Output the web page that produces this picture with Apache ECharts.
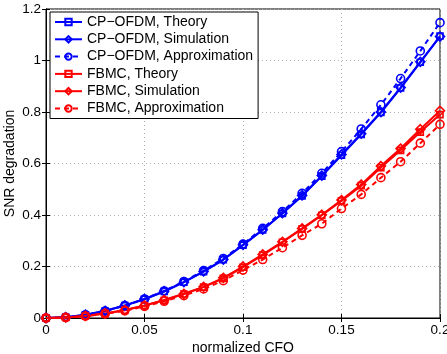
<!DOCTYPE html>
<html>
<head>
<meta charset="utf-8">
<script src="https://cdn.jsdelivr.net/npm/echarts@6/dist/echarts.min.js"></script>
<style>
    html, body {margin: 0; padding: 0; background: #fff;}
    #chart {width: 447px; height: 354px;}
</style>
</head>
<body>
<div id="chart"></div>
<script>
const cfo = [0, 0.01, 0.02, 0.03, 0.04, 0.05, 0.06, 0.07, 0.08, 0.09, 0.1,
    0.11, 0.12, 0.13, 0.14, 0.15, 0.16, 0.17, 0.18, 0.19, 0.2];

const ofdm_theory = [0, 0.003, 0.012, 0.027, 0.048, 0.073, 0.103, 0.139, 0.180, 0.226, 0.283,
    0.342, 0.406, 0.474, 0.551, 0.632, 0.713, 0.798, 0.893, 0.993, 1.095];
const ofdm_sim = [0, 0.003, 0.013, 0.028, 0.049, 0.074, 0.104, 0.139, 0.181, 0.227, 0.284,
    0.343, 0.407, 0.476, 0.553, 0.635, 0.716, 0.800, 0.895, 0.995, 1.093];
const ofdm_approx = [0, 0.003, 0.012, 0.027, 0.048, 0.074, 0.105, 0.142, 0.184, 0.231, 0.287,
    0.348, 0.413, 0.484, 0.562, 0.646, 0.734, 0.828, 0.930, 1.037, 1.147];

const fbmc_theory = [0, 0.002, 0.008, 0.017, 0.030, 0.048, 0.069, 0.093, 0.120, 0.154, 0.197,
    0.244, 0.294, 0.346, 0.399, 0.455, 0.514, 0.584, 0.651, 0.722, 0.790];
const fbmc_sim = [0, 0.002, 0.008, 0.018, 0.031, 0.049, 0.070, 0.094, 0.121, 0.156, 0.200,
    0.247, 0.296, 0.348, 0.401, 0.458, 0.518, 0.590, 0.658, 0.733, 0.805];
const fbmc_approx = [0, 0.002, 0.007, 0.016, 0.028, 0.045, 0.065, 0.087, 0.113, 0.145, 0.186,
    0.227, 0.273, 0.321, 0.366, 0.425, 0.480, 0.545, 0.607, 0.679, 0.752];

const font = 'Liberation Sans, Arial, sans-serif';

function make_series(name, values, color, symbol, size, dashed) {
    return {
        name: name, type: 'line', data: cfo.map((x, i) => [x, values[i]]),
        symbol: symbol, symbolSize: size, showSymbol: true,
        lineStyle: {color: color, width: 2, type: dashed ? [5, 4] : 'solid'},
        itemStyle: {color: 'rgba(0,0,0,0)', borderColor: color, borderWidth: 1.6},
        emphasis: {disabled: true}, animation: false
    };
}

let series = [
    make_series('CP\u2212OFDM, Theory', ofdm_theory, '#0000ff', 'rect', 6, false),
    make_series('CP\u2212OFDM, Simulation', ofdm_sim, '#0000ff', 'diamond', 9, false),
    make_series('CP\u2212OFDM, Approximation', ofdm_approx, '#0000ff', 'circle', 8, true),
    make_series('FBMC, Theory', fbmc_theory, '#ff0000', 'rect', 6, false),
    make_series('FBMC, Simulation', fbmc_sim, '#ff0000', 'diamond', 9, false),
    make_series('FBMC, Approximation', fbmc_approx, '#ff0000', 'circle', 8, true),
];

let tick_in = {show: true, inside: true, length: 4, lineStyle: {color: '#000'}};
let grid_line = {show: true, lineStyle: {color: '#b0b0b0', type: [1, 3], width: 1}};

let option = {
    backgroundColor: '#fff',
    animation: false,
    grid: {left: 46, right: 7, top: 9, bottom: 36, show: true, borderColor: '#000', borderWidth: 1,
        containLabel: false, outerBoundsMode: 'none'},
    legend: {
        orient: 'vertical', left: 50, top: 12,
        itemWidth: 27, itemHeight: 8, itemGap: 3.3,
        padding: [3, 5, 3, 4],
        borderColor: '#000', borderWidth: 1, backgroundColor: '#fff',
        textStyle: {fontFamily: font, fontSize: 14, color: '#000'},
        data: series.map(s => s.name)
    },
    xAxis: [{
        type: 'value', min: 0, max: 0.2, interval: 0.05,
        name: 'normalized CFO', nameLocation: 'middle', nameGap: 23, nameMoveOverlap: false,
        nameTextStyle: {fontFamily: font, fontSize: 14, color: '#000'},
        axisLine: {show: true, onZero: false, lineStyle: {color: '#000'}},
        axisTick: tick_in,
        axisLabel: {fontFamily: font, fontSize: 13.5, color: '#000', margin: 5},
        splitLine: grid_line
    }, {
        type: 'value', min: 0, max: 0.2, interval: 0.05, position: 'top',
        axisLine: {show: true, lineStyle: {color: '#000'}},
        axisTick: tick_in, axisLabel: {show: false}, splitLine: {show: false}
    }],
    yAxis: [{
        type: 'value', min: 0, max: 1.2, interval: 0.2,
        name: 'SNR degradation', nameLocation: 'middle', nameGap: 29, nameMoveOverlap: false,
        nameTextStyle: {fontFamily: font, fontSize: 14, color: '#000'},
        axisLine: {show: true, onZero: false, lineStyle: {color: '#000'}},
        axisTick: tick_in,
        axisLabel: {fontFamily: font, fontSize: 13.5, color: '#000', margin: 5},
        splitLine: grid_line
    }, {
        type: 'value', min: 0, max: 1.2, interval: 0.2, position: 'right',
        axisLine: {show: true, lineStyle: {color: '#000'}},
        axisTick: tick_in, axisLabel: {show: false}, splitLine: {show: false}
    }],
    series: series
};

let my_chart = echarts.init(document.getElementById('chart'), null, {renderer: 'canvas'});
my_chart.setOption(option);
</script>
</body>
</html>
